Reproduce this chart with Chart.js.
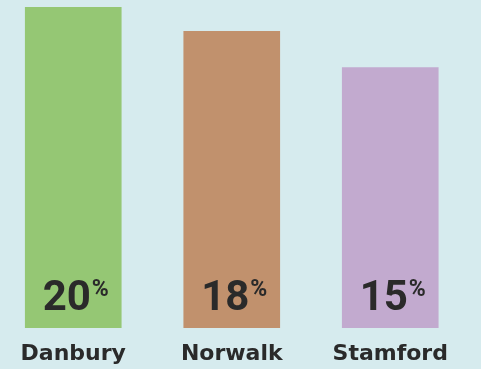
<!DOCTYPE html>
<html>
<head>
<meta charset="utf-8">
<script src="https://cdn.jsdelivr.net/npm/chart.js@4/dist/chart.umd.min.js"></script>
<style>
  html, body { margin: 0; padding: 0; background: #d6ebee; overflow: hidden; }
  #wrap { width: 481px; height: 369px; overflow: hidden; }
  #cityChart { margin-left: -6px; display: block; }
</style>
</head>
<body>
<div id="wrap"><canvas id="cityChart" width="487" height="369"></canvas></div>
<script>
const cities = ["Danbury", "Norwalk", "Stamford"];
const shares = [20, 18, 15];
const barColors = ["#95c774", "#c1916d", "#c2aacf"];
const yMin = -6.5;
const yMax = 20;

const ink = "#2a2a2a";

// big number + small superscript percent inside each bar
const valueLabels = {
  id: "valueLabels",
  afterDatasetsDraw(chart) {
    const ctx = chart.ctx;
    const meta = chart.getDatasetMeta(0);
    const base = chart.scales.y.getPixelForValue(yMin);
    ctx.save();
    ctx.fillStyle = ink;
    ctx.textBaseline = "alphabetic";
    meta.data.forEach((bar, i) => {
      const num = String(shares[i]);
      ctx.font = "bold 42px Roboto";
      const wn = ctx.measureText(num).width;
      ctx.font = "bold 23px Roboto";
      const wp = ctx.measureText("%").width;
      const left = bar.x - (wn + wp) / 2 + 2;
      ctx.textAlign = "left";
      ctx.font = "bold 42px Roboto";
      ctx.fillText(num, left, base - 18);
      ctx.font = "bold 23px Roboto";
      ctx.fillText("%", left + wn + 1, base - 32);
    });
    ctx.restore();
  }
};

new Chart(document.getElementById("cityChart"), {
  type: "bar",
  data: {
    labels: cities,
    datasets: [{
      data: shares,
      base: yMin,
      backgroundColor: barColors,
      borderWidth: 0,
      barThickness: 96
    }]
  },
  options: {
    responsive: false,
    animation: false,
    layout: { padding: { top: 7, right: 11.5, left: 0, bottom: 0 } },
    plugins: { legend: { display: false }, tooltip: { enabled: false } },
    scales: {
      x: {
        grid: { display: false },
        border: { display: false },
        ticks: {
          color: ink,
          padding: 5,
          font: { family: "DejaVu Sans", size: 22, weight: "bold" }
        },
        afterFit(scale) { scale.height = 41; }
      },
      y: {
        display: false,
        min: yMin,
        max: yMax
      }
    }
  },
  plugins: [valueLabels]
});
</script>
</body>
</html>
